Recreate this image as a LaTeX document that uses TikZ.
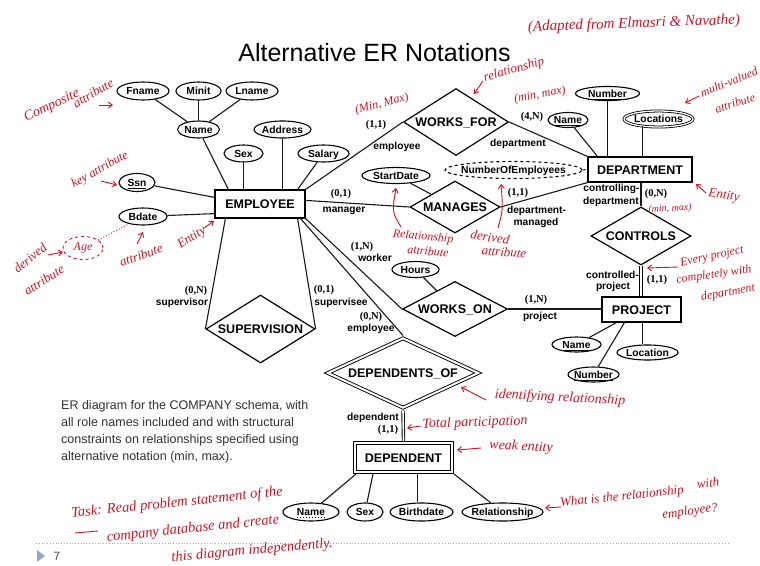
\documentclass[tikz,border=0pt]{standalone}
\usepackage{fontspec}
\setmainfont{Liberation Sans}
\newfontfamily\numfont{Liberation Serif}
\newfontfamily\handfont{Liberation Serif}
\usetikzlibrary{shapes.geometric,arrows.meta}

\definecolor{hred}{RGB}{205,20,35}
\definecolor{captext}{RGB}{50,50,50}
\definecolor{triblue}{RGB}{140,170,200}

% zero-width text so that shapes keep their given sizes
\newcommand\zb[1]{\makebox[0pt]{#1}}

\tikzset{
  ln/.style={line width=1.1pt, draw=black!90},
  dbl/.style={line width=0.9pt, double, double distance=1.6pt},
  ent/.style={draw, rectangle, line width=1.2pt, inner sep=0pt,
    font=\bfseries\fontsize{12.5}{14}\selectfont, text height=9pt, text depth=0pt},
  rel/.style={draw, diamond, line width=1.2pt, inner sep=0pt,
    font=\bfseries\fontsize{12.5}{14}\selectfont, text height=9pt, text depth=0pt},
  att/.style={draw, ellipse, line width=1.1pt, inner sep=0pt,
    font=\bfseries\fontsize{10.3}{12}\selectfont, text height=7.4pt, text depth=0pt},
  dblshape/.style={line width=0.9pt, double, double distance=2pt, outer sep=2pt},
  role/.style={inner sep=0pt, font=\bfseries\fontsize{10.2}{12}\selectfont},
  card/.style={inner sep=0pt, font=\numfont\bfseries\fontsize{10.5}{12}\selectfont},
  hw/.style={inner sep=0pt, text=hred, font=\handfont\itshape\fontsize{13}{14}\selectfont},
  hwa/.style={draw=hred, line width=0.9pt, -{Straight Barb[length=4pt,width=6pt]}},
}

\begin{document}
\begin{tikzpicture}[x=1pt,y=-1pt]
\useasboundingbox (0,0) rectangle (760,565);

% title
\node[font=\fontsize{25}{30}\selectfont] (title) at (374.5,53) {Alternative ER Notations};

% entity types
\node[ent, minimum width=90pt, minimum height=28pt] (emp) at (260,204) {\zb{EMPLOYEE}};
\node[ent, minimum width=104pt, minimum height=25pt] (dept) at (640,169.5) {\zb{DEPARTMENT}};
\node[ent, minimum width=79pt, minimum height=25pt] (proj) at (641.5,309.5) {\zb{PROJECT}};
\node[ent, dblshape, minimum width=97pt, minimum height=29pt] (dep) at (403.5,457.5) {\zb{DEPENDENT}};

% relationship types
\node[rel, minimum width=105pt, minimum height=67pt] (wf) at (456,122) {\zb{WORKS\_FOR}};
\node[rel, minimum width=90pt, minimum height=52pt] (man) at (455,207) {\zb{MANAGES}};
\node[rel, minimum width=100pt, minimum height=58pt] (ctl) at (641,236) {\zb{CONTROLS}};
\node[rel, minimum width=105pt, minimum height=55pt] (won) at (455,309) {\zb{WORKS\_ON}};
\node[rel, minimum width=109pt, minimum height=68pt] (sup) at (260.5,329) {\zb{SUPERVISION}};
\node[rel, dblshape, minimum width=152pt, minimum height=71pt] (dof) at (403,373) {\zb{DEPENDENTS\_OF}};

% attributes of EMPLOYEE
\node[att, minimum width=52pt, minimum height=18pt] (fname) at (143,91) {\zb{Fname}};
\node[att, minimum width=45pt, minimum height=18pt] (minit) at (198.5,91) {\zb{Minit}};
\node[att, minimum width=52pt, minimum height=18pt] (lname) at (252,91) {\zb{Lname}};
\node[att, minimum width=42pt, minimum height=17pt] (ename) at (198.5,129.5) {\zb{Name}};
\node[att, minimum width=57pt, minimum height=17pt] (addr) at (282.5,129.5) {\zb{Address}};
\node[att, minimum width=39pt, minimum height=17pt] (sex) at (243.5,153.5) {\zb{Sex}};
\node[att, minimum width=51pt, minimum height=17pt] (sal) at (323.5,153.5) {\zb{Salary}};
\node[att, minimum width=36pt, minimum height=18pt] (ssn) at (137,182.5) {\zb{\underline{Ssn}}};
\node[att, minimum width=48pt, minimum height=17pt] (bdate) at (143,216.5) {\zb{Bdate}};

% attributes of relationships and DEPARTMENT
\node[att, minimum width=68pt, minimum height=16pt] (start) at (396,175.5) {\zb{StartDate}};
\node[att, dashed, minimum width=137pt, minimum height=17pt] (noe) at (513.5,170) {\zb{NumberOfEmployees}};
\node[att, minimum width=64pt, minimum height=14pt] (dnum) at (607.5,93.5) {\zb{\underline{Number}}};
\node[att, minimum width=40pt, minimum height=15pt] (dname) at (568,120) {\zb{\underline{Name}}};
\node[att, line width=0.8pt, double, double distance=1.3pt, minimum width=69pt, minimum height=16pt] (loc) at (658.5,119) {\zb{Locations}};
\node[att, minimum width=47pt, minimum height=16pt] (hours) at (415.5,269.5) {\zb{Hours}};

% attributes of PROJECT
\node[att, minimum width=49pt, minimum height=15pt] (pname) at (576.5,344.5) {\zb{\underline{Name}}};
\node[att, minimum width=61pt, minimum height=15pt] (ploc) at (647.5,352.5) {\zb{Location}};
\node[att, minimum width=51pt, minimum height=15pt] (pnum) at (593.5,374.5) {\zb{\underline{Number}}};

% attributes of DEPENDENT
\node[att, minimum width=56pt, minimum height=18pt] (dpn) at (311,512) {\zb{Name}};
\node[att, minimum width=36pt, minimum height=18pt] (dsex) at (365,512) {\zb{Sex}};
\node[att, minimum width=63pt, minimum height=18pt] (dbirth) at (421.5,512) {\zb{Birthdate}};
\node[att, minimum width=81pt, minimum height=18pt] (drel) at (502.5,512) {\zb{Relationship}};
\draw[dotted, line width=1pt] ([xshift=-14pt,yshift=-5.5pt]dpn.center) -- ([xshift=14pt,yshift=-5.5pt]dpn.center);

% helper points for vertical attribute links
\coordinate (locfoot) at ([xshift=-16pt,yshift=1.5pt]loc.south);
\coordinate (plocfoot) at ([xshift=-5pt]ploc.north);
\coordinate (bfoot) at ([xshift=-4pt]dbirth.north);

% attribute links
\draw[ln] (fname) -- (ename);
\draw[ln] (minit) -- (ename);
\draw[ln] (lname) -- (ename);
\draw[ln] (ename) -- ([xshift=14pt]emp.north west);
\draw[ln] (sex) -- (sex |- emp.north);
\draw[ln] (addr) -- (addr |- emp.north);
\draw[ln] (sal) -- ([xshift=-8pt]emp.north east);
\draw[ln] (ssn) -- ([yshift=-8pt]emp.north west);
\draw[ln] (bdate) -- ([yshift=5pt]emp.south west);
\draw[ln] (start) -- (man);
\draw[ln, dashed] (noe.east) -- (dept.west);
\draw[ln] (dname) -- ([xshift=10pt]dept.north west);
\draw[ln] (dnum) -- (dnum |- dept.north);
\draw[ln] (locfoot) -- (locfoot |- dept.north);
\draw[ln] (hours) -- (won);
\draw[ln] (pname) -- ([xshift=15pt]proj.south west);
\draw[ln] (pnum) -- ([xshift=23pt]proj.south west);
\draw[ln] (plocfoot) -- (plocfoot |- proj.south);
\draw[ln] (dpn) -- ([xshift=3pt]dep.south west);
\draw[ln] (dsex) -- ([xshift=20pt]dep.south west);
\draw[ln] (bfoot) -- (bfoot |- dep.south);
\draw[ln] (drel) -- (dep.south east);

% relationship links
\draw[ln] (emp.north east) -- (wf.west);
\draw[ln] (wf.east) -- (dept.north west);
\draw[ln] ([yshift=-11pt]emp.north east) -- (man.west);
\draw[ln] (man.east) -- (dept.south west);
\draw[ln] (ctl.north |- dept.south) -- (ctl.north);
\draw[dbl] (ctl.south) -- (ctl.south |- proj.north);
\draw[ln] (won.east) -- (won.east -| proj.west);
\draw[ln] (emp.south east) -- (won.west);
\draw[ln] ([xshift=-5pt]emp.south east) -- (dof.north);
\draw[ln] ([xshift=11pt]emp.south west) -- (sup.west);
\draw[ln] ([xshift=-8pt]emp.south east) -- (sup.east);
\draw[dbl] (dof.south) -- (dep.north);

% role names and (min,max) constraints
\node[card] (c1) at (376,125) {(1,1)};
\node[role] (r1) at (397,147) {employee};
\node[card] (c2) at (532,117) {(4,N)};
\node[role] (r2) at (518,144) {department};
\node[card] (c3) at (341,194) {(0,1)};
\node[role] (r3) at (344,211) {manager};
\node[card] (c4) at (518,193) {(1,1)};
\node[role] (r4) at (536.5,211) {department-};
\node[role] (r4b) at (536,223) {managed};
\node[role] (r5) at (611.5,189) {controlling-};
\node[role] (r5b) at (611,202) {department};
\node[card] (c5) at (656,194) {(0,N)};
\node[role] (r6) at (612.5,275) {controlled-};
\node[role] (r6b) at (613,287) {project};
\node[card] (c6) at (657,280) {(1,1)};
\node[card] (c7) at (536,300) {(1,N)};
\node[role] (r7) at (540,317) {project};
\node[card] (c8) at (362,247) {(1,N)};
\node[role] (r8) at (375,258) {worker};
\node[card] (c9) at (196,291) {(0,N)};
\node[role] (r9) at (182,303) {supervisor};
\node[card] (c10) at (324,290) {(0,1)};
\node[role] (r10) at (341,303) {supervisee};
\node[card] (c11) at (371,317) {(0,N)};
\node[role] (r11) at (371,329) {employee};
\node[role] (r12) at (373,418) {dependent};
\node[card] (c12) at (388,430) {(1,1)};

% caption
\node[anchor=north west, align=left, inner sep=0pt, text=captext,
  font=\fontsize{12.5}{17}\selectfont] (cap) at (61,400)
  {ER diagram for the COMPANY schema, with\\
   all role names included and with structural\\
   constraints on relationships specified using\\
   alternative notation (min, max).};

% slide footer
\draw[black!35, dotted, line width=0.8pt] (36,543) -- (728,543);
\fill[triblue] (37,550) -- (45,556) -- (37,562) -- cycle;
\node[inner sep=0pt, text=black!70, font=\fontsize{12}{14}\selectfont] (pg) at (57,556) {7};

% handwritten notes
\node[hw, font=\handfont\itshape\fontsize{15}{16}\selectfont, rotate=2] (h1) at (634,24) {(Adapted from Elmasri \& Navathe)};
\node[hw, rotate=16] (h2) at (514,70) {relationship};
\draw[hwa] (483,81) -- (474,94);
\node[hw, font=\handfont\itshape\fontsize{12}{13}\selectfont, rotate=14] (h3) at (382,104) {(Min, Max)};
\node[hw, font=\handfont\itshape\fontsize{12}{13}\selectfont, rotate=10] (h4) at (540,95) {(min, max)};
\node[hw, font=\handfont\itshape\fontsize{12}{13}\selectfont, rotate=22] (h5) at (729,82) {multi-valued};
\node[hw, font=\handfont\itshape\fontsize{12}{13}\selectfont, rotate=18] (h5b) at (735,103) {attribute};
\draw[hwa] (699,96) -- (685,103);
\node[hw, rotate=-8] (h6) at (724,196) {Entity};
\draw[hwa] (706,193) -- (696,184);
\node[hw, font=\handfont\itshape\fontsize{10}{11}\selectfont, rotate=3] (h7) at (670,209) {(min, max)};
\node[hw, font=\handfont\itshape\fontsize{12}{13}\selectfont, rotate=12] (h8) at (712,257) {Every project};
\node[hw, font=\handfont\itshape\fontsize{12}{13}\selectfont, rotate=8] (h8b) at (714,275) {completely with};
\node[hw, font=\handfont\itshape\fontsize{12}{13}\selectfont, rotate=10] (h8c) at (728,293) {department};
\draw[hwa] (678,267) -- (647,268);
\node[hw, font=\handfont\itshape\fontsize{14}{15}\selectfont, rotate=26] (h9) at (52,106) {Composite};
\node[hw, rotate=31] (h9b) at (93,93) {attribute};
\draw[hwa] (99,105) -- (113,105);
\node[hw, font=\handfont\itshape\fontsize{12.5}{13}\selectfont, rotate=29] (h10) at (100,170) {key attribute};
\draw[hwa] (101,181) -- (117,185);
\node[hw, rotate=40] (h11) at (30,258) {derived};
\node[hw, rotate=32] (h11b) at (44,280) {attribute};
\draw[hwa] (48,255) -- (63,252);
\node[draw=hred, dashed, ellipse, line width=0.9pt, inner sep=0pt, minimum width=40pt, minimum height=23pt] (age) at (83,248) {};
\node[hw, font=\handfont\itshape\fontsize{12}{13}\selectfont] (agetxt) at (age) {Age};
\draw[hred, dotted, line width=0.9pt] (age) -- (bdate);
\node[hw, rotate=19] (h13) at (141,255) {attribute};
\draw[hwa] (137,244) -- (143,232);
\node[hw, rotate=33] (h14) at (192,238) {Entity};
\draw[hwa] (204,228) -- (214,221);
\node[hw, font=\handfont\itshape\fontsize{12}{13}\selectfont, rotate=-5] (h15) at (423,237) {Relationship};
\node[hw, font=\handfont\itshape\fontsize{12}{13}\selectfont, rotate=-5] (h15b) at (428,251) {attribute};
\draw[hwa] (401,227) .. controls (392,212) .. (396,188);
\node[hw, rotate=-8] (h16) at (490,237) {derived};
\node[hw, rotate=-5] (h16b) at (504,252) {attribute};
\draw[hwa] (498,228) .. controls (503,210) .. (501,184);
\node[hw, font=\handfont\itshape\fontsize{14}{15}\selectfont, rotate=-3] (h17) at (560,398) {identifying relationship};
\draw[hwa] (486,400) -- (461,387);
\node[hw, font=\handfont\itshape\fontsize{14}{15}\selectfont, rotate=2] (h18) at (475,423) {Total participation};
\draw[hwa] (421,426) -- (407,428);
\node[hw, font=\handfont\itshape\fontsize{14}{15}\selectfont, rotate=-3] (h19) at (521,447) {weak entity};
\draw[hwa] (481,448) -- (457,450);
\node[hw, rotate=6] (h20) at (622,497) {What is the relationship};
\node[hw, rotate=6] (h20b) at (708,483) {with};
\node[hw, rotate=8] (h20c) at (690,512) {employee?};
\draw[hwa] (561,507) -- (545,508);
\node[hw, font=\handfont\itshape\fontsize{14.5}{15}\selectfont, rotate=6] (h21) at (177,503) {Task: Read problem statement of the};
\node[hw, font=\handfont\itshape\fontsize{14.5}{15}\selectfont, rotate=6] (h21b) at (193,529) {company database and create};
\node[hw, font=\handfont\itshape\fontsize{14.5}{15}\selectfont, rotate=5] (h21c) at (252,551) {this diagram independently.};
\draw[hred, line width=0.9pt] (75,533) -- (98,531);
\end{tikzpicture}
\end{document}
